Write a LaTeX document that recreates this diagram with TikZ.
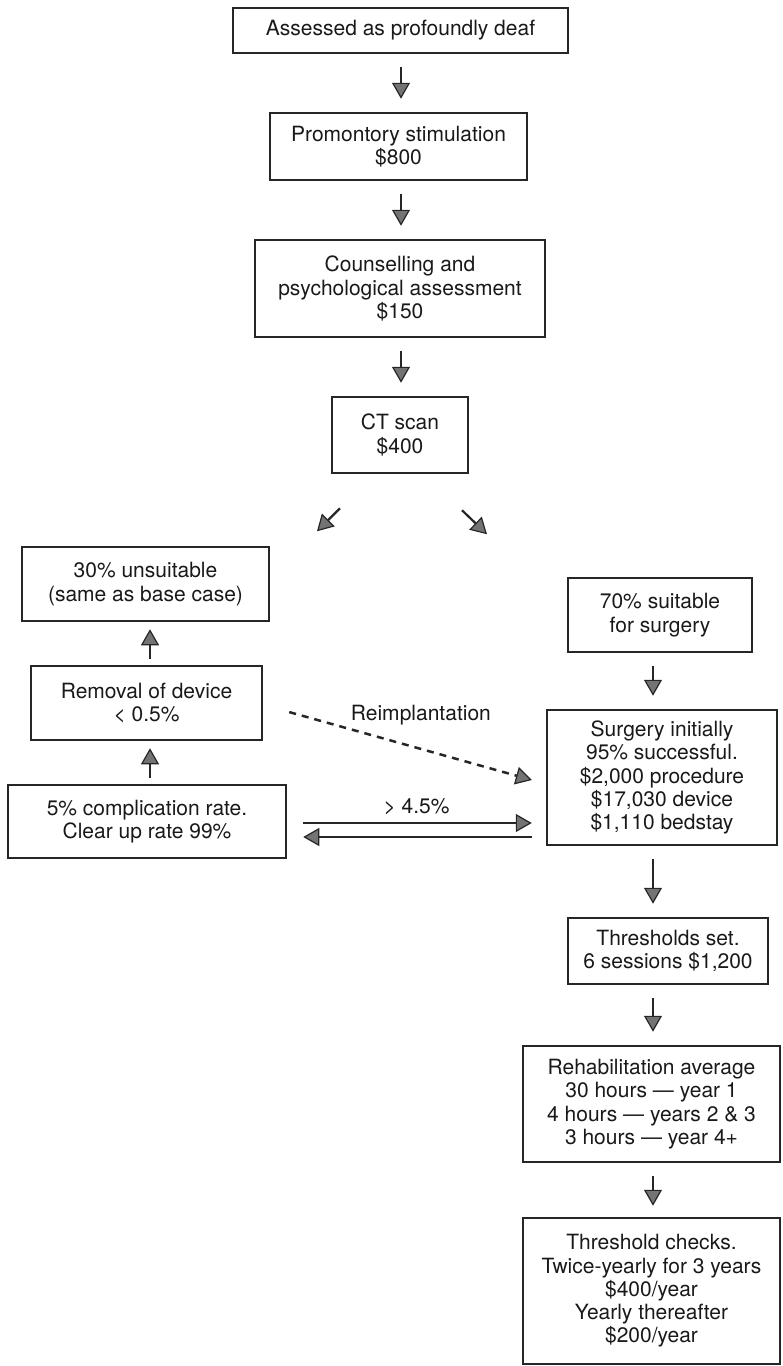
\documentclass[tikz,border=0pt]{standalone}
\usepackage{fontspec}
\setmainfont{TeX Gyre Heros}
\usetikzlibrary{arrows.meta}
\begin{document}
\begin{tikzpicture}[x=1pt, y=-1pt,
  font=\fontsize{21}{23.3}\selectfont,
  box/.style={draw=black!85, line width=2.5pt, align=center, inner sep=0pt, text=black!90},
  flow/.style={draw=black!85, line width=2.2pt, shorten <=13pt, shorten >=13pt,
    -{Triangle[width=18pt, length=16pt, fill=black!55, line width=1.2pt]}},
  upflow/.style={flow, shorten <=6pt, shorten >=7pt},
  note/.style={inner sep=0pt, text=black!90}]
  \useasboundingbox (0,0) rectangle (783,1366);

  \coordinate (colM) at (401,0);
  \coordinate (colL) at (150,0);
  \coordinate (colR) at (653,0);

  % main column
  \node[box, minimum width=335pt, minimum height=45pt] (assess) at (400.5,30.5) {Assessed as profoundly deaf};
  \node[box, minimum width=257pt, minimum height=67pt] (prom) at (398.5,146.5) {Promontory stimulation\\\$800};
  \node[box, minimum width=290pt, minimum height=97pt] (couns) at (400,288.5) {Counselling and\\psychological assessment\\\$150};
  \node[box, minimum width=136pt, minimum height=76pt] (ct) at (400,435) {CT scan\\\$400};

  \draw[flow] (assess.south -| colM) -- (prom.north -| colM);
  \draw[flow] (prom.south -| colM) -- (couns.north -| colM);
  \draw[flow] (couns.south -| colM) -- (ct.north -| colM);

  \draw[flow, shorten <=0pt, shorten >=0pt] ([shift={(-60,34)}]ct.south) -- ++(-23,23);
  \draw[flow, shorten <=0pt, shorten >=0pt] ([shift={(62,36)}]ct.south) -- ++(25,24);

  % left branch
  \node[box, minimum width=247pt, minimum height=74pt] (unsuit) at (145.5,584) {30\% unsuitable\\(same as base case)};
  \node[box, minimum width=231pt, minimum height=74pt] (rem) at (146.5,703) {Removal of device\\< 0.5\%};
  \node[box, minimum width=278pt, minimum height=73pt] (comp) at (147,821.5) {5\% complication rate.\\Clear up rate 99\%};

  \draw[upflow] (rem.north -| colL) -- (unsuit.south -| colL);
  \draw[upflow] (comp.north -| colL) -- (rem.south -| colL);

  % right branch
  \node[box, minimum width=184pt, minimum height=74pt] (suit) at (660,615) {70\% suitable\\for surgery};
  \node[box, minimum width=230pt, minimum height=135pt] (surg) at (662,777.5) {Surgery initially\\95\% successful.\\\$2,000 procedure\\\$17,030 device\\\$1,110 bedstay};
  \node[box, minimum width=200pt, minimum height=66pt] (thr) at (668,951) {Thresholds set.\\6 sessions \$1,200};
  \node[box, minimum width=257pt, minimum height=116pt] (rehab) at (651.5,1104) {Rehabilitation average\\30 hours — year 1\\4 hours — years 2 \& 3\\3 hours — year 4+};
  \node[box, minimum width=257pt, minimum height=146pt] (check) at (651.5,1291) {Threshold checks.\\Twice-yearly for 3 years\\\$400/year\\Yearly thereafter\\\$200/year};

  \draw[flow] (suit.south -| colR) -- (surg.north -| colR);
  \draw[flow] (surg.south -| colR) -- (thr.north -| colR);
  \draw[flow] (thr.south -| colR) -- (rehab.north -| colR);
  \draw[flow, shorten >=11pt] (rehab.south -| colR) -- (check.north -| colR);

  % links between branches
  \draw[flow, line width=2.5pt, dash pattern=on 7pt off 6pt, shorten <=27pt, shorten >=14.5pt]
    ([yshift=-1.8pt]rem.east) -- ([yshift=-6.4pt]surg.west)
    node[note, pos=0.558, above=22.5pt] {Reimplantation};
  \draw[flow, shorten <=16pt, shorten >=14pt] ([yshift=-1.5pt]comp.east) -- ([yshift=-1.5pt]comp.east -| surg.west)
    node[note, midway, above=6.5pt] {> 4.5\%};
  \draw[flow, shorten <=14pt, shorten >=16pt] ([yshift=-15.5pt]comp.east -| surg.west) -- ([yshift=-15.5pt]comp.east);
\end{tikzpicture}
\end{document}
